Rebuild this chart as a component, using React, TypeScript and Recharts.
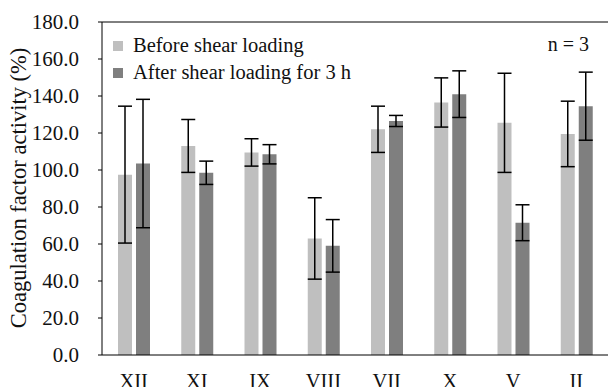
import React from 'react';
import { BarChart, Bar, XAxis, YAxis, ErrorBar, ReferenceLine } from 'recharts';

const categories = ['XII', 'XI', 'IX', 'VIII', 'VII', 'X', 'V', 'II'];
const beforeValues = [97.5, 113, 109.5, 63, 122, 136.5, 125.5, 119.5];
const afterValues = [103.5, 98.5, 108.5, 59, 126.5, 141, 71.5, 134.5];
const beforeErrors = [37, 14.3, 7.4, 22, 12.5, 13.3, 26.8, 17.7];
const afterErrors = [34.7, 6.3, 5.2, 14.2, 3, 12.6, 9.7, 18.4];
const yTicks = [0, 20, 40, 60, 80, 100, 120, 140, 160, 180];
const seriesNames = ['Before shear loading', 'After shear loading for 3 h'];

const data = categories.map((c, i) => ({
  cat: c,
  before: beforeValues[i],
  after: afterValues[i],
  errBefore: beforeErrors[i],
  errAfter: afterErrors[i],
}));

const FONT = "'Liberation Serif', 'Times New Roman', Times, serif";
const LIGHT = '#bfbfbf';
const DARK = '#7f7f7f';

const XTick = (props: any) => {
  const { x, y, payload } = props;
  return (
    <text x={x} y={y + 33} textAnchor="middle" style={{ fontFamily: FONT }} fontSize={20.5} fill="#111">
      {payload.value}
    </text>
  );
};

export default function App() {
  return (
    <div style={{ position: 'absolute', left: 0, top: 0, width: 608, height: 387, background: '#fff' }}>
      <BarChart
        width={608}
        height={387}
        data={data}
        margin={{ top: 22, right: 0, bottom: 0, left: 0 }}
        barSize={14}
        barGap={4}
        style={{ fontFamily: FONT }}
      >
        <XAxis
          dataKey="cat"
          height={32}
          tickLine={false}
          tickSize={0}
          tickMargin={0}
          axisLine={{ stroke: '#000', strokeWidth: 1 }}
          tick={<XTick />}
          interval={0}
        />
        <YAxis
          width={102}
          domain={[0, 180]}
          ticks={yTicks}
          interval={0}
          tickFormatter={(v: number) => v.toFixed(1)}
          tickSize={4}
          tickMargin={19}
          tickLine={{ stroke: '#000' }}
          axisLine={{ stroke: '#000', strokeWidth: 1 }}
          tick={{ fontSize: 21, fill: '#111', style: { fontFamily: FONT } }}
          label={{
            content: () => (
              <text
                x={18}
                y={188}
                transform="rotate(-90 18 188)"
                textAnchor="middle"
                dominantBaseline="central"
                style={{ fontFamily: FONT }}
                fontSize={22.5}
                fill="#111"
              >
                Coagulation factor activity (%)
              </text>
            ),
          }}
        />
        <ReferenceLine y={180} stroke="#000" strokeWidth={1} />
        <Bar dataKey="before" fill={LIGHT} isAnimationActive={false}>
          <ErrorBar dataKey="errBefore" width={7} stroke="#000" strokeWidth={1.5} direction="y" />
        </Bar>
        <Bar dataKey="after" fill={DARK} isAnimationActive={false}>
          <ErrorBar dataKey="errAfter" width={7} stroke="#000" strokeWidth={1.5} direction="y" />
        </Bar>
      </BarChart>
      <div
        style={{
          position: 'absolute',
          left: 113,
          top: 32,
          fontFamily: FONT,
          fontSize: 20.5,
          color: '#111',
          lineHeight: '27px',
        }}
      >
        {[LIGHT, DARK].map((col, i) => (
          <div key={i} style={{ display: 'flex', alignItems: 'center', whiteSpace: 'nowrap' }}>
            <span style={{ display: 'inline-block', width: 10, height: 10, background: col, marginRight: 10 }} />
            <span>{seriesNames[i]}</span>
          </div>
        ))}
      </div>
      <div
        style={{
          position: 'absolute',
          left: 520,
          top: 32,
          width: 69,
          textAlign: 'right',
          fontFamily: FONT,
          fontSize: 20,
          color: '#111',
          lineHeight: '24px',
          whiteSpace: 'nowrap',
        }}
      >
        n = 3
      </div>
    </div>
  );
}
